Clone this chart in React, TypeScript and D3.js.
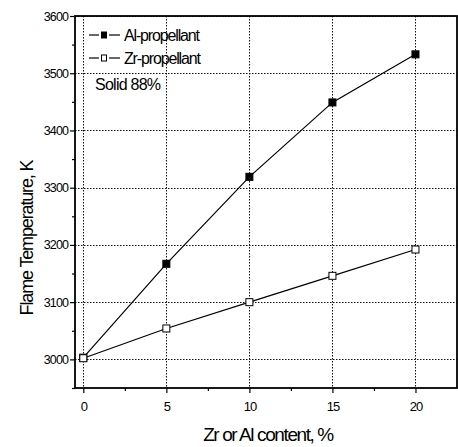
import React, { useEffect, useRef } from 'react';
import * as d3 from 'd3';

const contents = [0, 5, 10, 15, 20];
const alFlameTemp = [3003, 3167, 3319, 3449, 3533];
const zrFlameTemp = [3002, 3054, 3100, 3146, 3192];
const yTicks = [3000, 3100, 3200, 3300, 3400, 3500, 3600];
const yMinorTicks = [2950, 3050, 3150, 3250, 3350, 3450, 3550];
const xMinorTicks = [2.5, 7.5, 12.5, 17.5];
const legendLabels = ['Al-propellant', 'Zr-propellant'];

const WIDTH = 458;
const HEIGHT = 447;
const FONT = '"Liberation Sans", Arial, sans-serif';

// snap to the pixel grid so the dotted lines stay crisp
const crisp = (v: number) => Math.round(v) + 0.5;

function drawChart(node: SVGSVGElement) {
  const svg = d3.select(node);
  svg.selectAll('*').remove();

  const x = d3.scaleLinear().domain([-0.5, 22.5]).range([75, 457]);
  const y = d3.scaleLinear().domain([2950, 3600]).range([388, 16]);
  const [left, right] = x.range();
  const [bottom, top] = y.range();

  // dotted grid
  svg.append('g')
    .selectAll('line')
    .data(contents)
    .join('line')
    .attr('x1', (d) => crisp(x(d)))
    .attr('x2', (d) => crisp(x(d)))
    .attr('y1', top)
    .attr('y2', bottom)
    .attr('stroke', '#111')
    .attr('stroke-width', 1)
    .attr('stroke-dasharray', '1.5,1.5');
  svg.append('g')
    .selectAll('line')
    .data(yTicks)
    .join('line')
    .attr('x1', left)
    .attr('x2', right)
    .attr('y1', (d) => crisp(y(d)))
    .attr('y2', (d) => crisp(y(d)))
    .attr('stroke', '#111')
    .attr('stroke-width', 1)
    .attr('stroke-dasharray', '1.5,1.5');

  // frame
  svg.append('rect')
    .attr('x', left)
    .attr('y', top)
    .attr('width', right - left)
    .attr('height', bottom - top)
    .attr('fill', 'none')
    .attr('stroke', '#000')
    .attr('stroke-width', 1.8);

  const yAxis = svg.append('g')
    .attr('transform', `translate(${left},0)`)
    .call(d3.axisLeft(y).tickValues(yTicks).tickSize(5).tickPadding(2).tickFormat(d3.format('d')))
    .call((g) => g.select('.domain').remove());
  yAxis.selectAll('text')
    .attr('font-family', FONT)
    .attr('font-size', 12.5)
    .attr('letter-spacing', -0.9)
    .attr('fill', '#000');
  yAxis.selectAll('line').attr('stroke', '#000').attr('stroke-width', 1.2);

  svg.append('g')
    .attr('transform', `translate(${left},0)`)
    .call(d3.axisLeft(y).tickValues(yMinorTicks).tickSize(3).tickFormat(() => ''))
    .call((g) => g.select('.domain').remove())
    .call((g) => g.selectAll('line').attr('stroke', '#000').attr('stroke-width', 1.2));

  const xAxis = svg.append('g')
    .attr('transform', `translate(0,${bottom})`)
    .call(d3.axisBottom(x).tickValues(contents).tickSize(5).tickPadding(9).tickFormat(d3.format('d')))
    .call((g) => g.select('.domain').remove());
  xAxis.selectAll('text')
    .attr('font-family', FONT)
    .attr('font-size', 13)
    .attr('letter-spacing', -1)
    .attr('fill', '#000');
  xAxis.selectAll('line').attr('stroke', '#000').attr('stroke-width', 1.2);

  svg.append('g')
    .attr('transform', `translate(0,${bottom})`)
    .call(d3.axisBottom(x).tickValues(xMinorTicks).tickSize(3).tickFormat(() => ''))
    .call((g) => g.select('.domain').remove())
    .call((g) => g.selectAll('line').attr('stroke', '#000').attr('stroke-width', 1.2));

  // axis titles
  svg.append('text')
    .attr('x', 268)
    .attr('y', 441)
    .attr('text-anchor', 'middle')
    .attr('font-family', FONT)
    .attr('font-size', 19)
    .attr('letter-spacing', -1.4)
    .text('Zr or Al content, %');

  svg.append('text')
    .attr('transform', 'translate(33,238) rotate(-90)')
    .attr('text-anchor', 'middle')
    .attr('font-family', FONT)
    .attr('font-size', 18)
    .attr('letter-spacing', -1.15)
    .text('Flame Temperature, K');

  // series
  const series = [
    { label: legendLabels[0], values: alFlameTemp, fill: '#000' },
    { label: legendLabels[1], values: zrFlameTemp, fill: '#fff' }
  ];
  const line = d3.line<number>()
    .x((_, i) => x(contents[i]))
    .y((d) => y(d));

  series.forEach((s) => {
    svg.append('path')
      .datum(s.values)
      .attr('fill', 'none')
      .attr('stroke', '#000')
      .attr('stroke-width', 1.2)
      .attr('d', line);
    svg.append('g')
      .selectAll('rect')
      .data(s.values)
      .join('rect')
      .attr('x', (_, i) => x(contents[i]) - 3.5)
      .attr('y', (d) => y(d) - 3.5)
      .attr('width', 7)
      .attr('height', 7)
      .attr('fill', s.fill)
      .attr('stroke', '#000')
      .attr('stroke-width', 1);
  });

  // legend
  const legend = svg.append('g');
  series.forEach((s, i) => {
    const ly = 35 + i * 23;
    legend.append('line').attr('x1', 89).attr('x2', 99).attr('y1', ly).attr('y2', ly).attr('stroke', '#000').attr('stroke-width', 1.2);
    legend.append('line').attr('x1', 109).attr('x2', 120).attr('y1', ly).attr('y2', ly).attr('stroke', '#000').attr('stroke-width', 1.2);
    legend.append('rect')
      .attr('x', 101.5)
      .attr('y', ly - 3)
      .attr('width', 5)
      .attr('height', 6)
      .attr('fill', s.fill)
      .attr('stroke', '#000')
      .attr('stroke-width', 1);
    legend.append('text')
      .attr('x', 124)
      .attr('y', ly + 5.5)
      .attr('font-family', FONT)
      .attr('font-size', 16)
      .attr('letter-spacing', -1.15)
      .text(s.label);
  });

  svg.append('text')
    .attr('x', 95)
    .attr('y', 90)
    .attr('font-family', FONT)
    .attr('font-size', 16)
    .attr('letter-spacing', -0.75)
    .text('Solid 88%');
}

export default function App() {
  const ref = useRef<SVGSVGElement>(null);

  useEffect(() => {
    if (ref.current) {
      drawChart(ref.current);
    }
  }, []);

  return (
    <svg
      ref={ref}
      width={WIDTH}
      height={HEIGHT}
      style={{ position: 'absolute', left: 0, top: 0, background: '#fff' }}
    />
  );
}
